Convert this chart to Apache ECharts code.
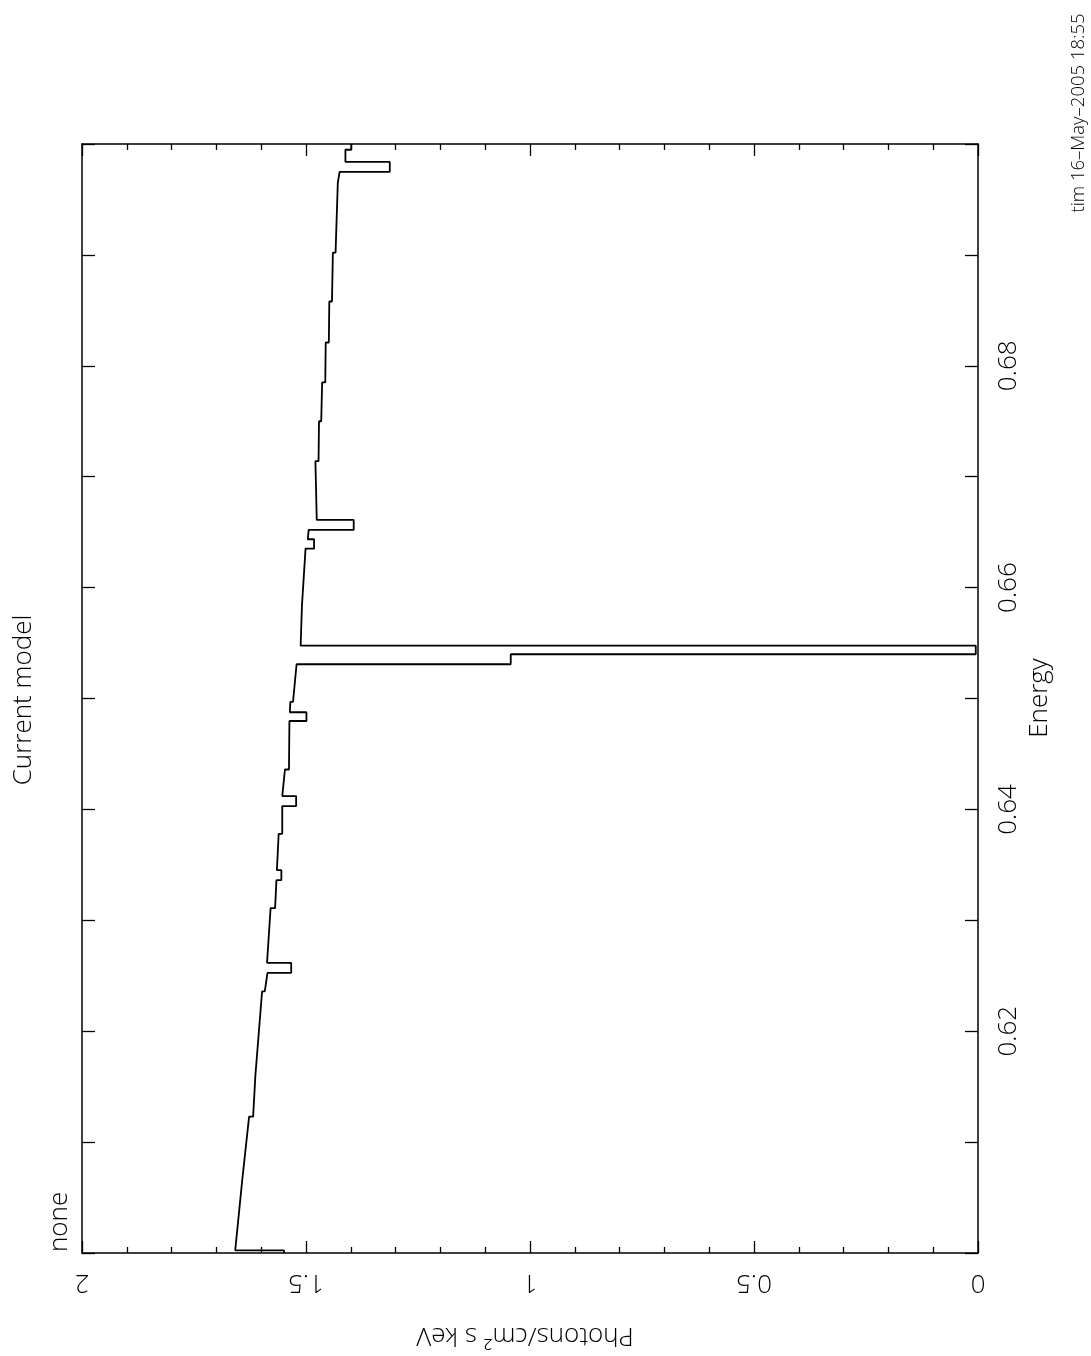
<!DOCTYPE html>
<html>
<head>
<meta charset="utf-8">
<title>Current model</title>
<script src="https://cdn.jsdelivr.net/npm/echarts@6/dist/echarts.min.js"></script>
<style>
  html, body { margin: 0; padding: 0; background: #fff; }
  #chart { width: 1091px; height: 1356px; }
</style>
</head>
<body>
<div id="chart"></div>
<script>
// Model spectrum (step outline) traced as vertices: energy in keV, flux in photons/cm^2/s/keV
const energy = [
  0.6000, 0.60024, 0.60024, 0.6067, 0.6123, 0.6123, 0.6160, 0.6236, 0.6236, 0.62526,
  0.62526, 0.62616, 0.62616, 0.6305, 0.6311, 0.6311, 0.63362, 0.63362, 0.63452, 0.63452,
  0.6378, 0.6378, 0.6403, 0.6403, 0.6412, 0.6412, 0.6436, 0.6436, 0.64797, 0.64797,
  0.64876, 0.64876, 0.6497, 0.6497, 0.65309, 0.65309, 0.65399, 0.65399, 0.65476, 0.65476,
  0.6584, 0.66351, 0.66351, 0.66436, 0.66436, 0.6652, 0.6652, 0.6661, 0.6661, 0.6714,
  0.6714, 0.6750, 0.6750, 0.6785, 0.6785, 0.6821, 0.6821, 0.6858, 0.6858, 0.6902,
  0.6902, 0.6965, 0.69748, 0.69748, 0.69838, 0.69838, 0.69948, 0.69948, 0.7000
];
const flux = [
  1.549, 1.549, 1.658, 1.642, 1.627, 1.618, 1.613, 1.598, 1.592, 1.586,
  1.533, 1.533, 1.587, 1.580, 1.579, 1.569, 1.566, 1.555, 1.555, 1.565,
  1.561, 1.553, 1.553, 1.522, 1.522, 1.553, 1.547, 1.538, 1.537, 1.499,
  1.499, 1.536, 1.535, 1.529, 1.521, 1.043, 1.043, 0.005, 0.005, 1.512,
  1.509, 1.501, 1.482, 1.482, 1.496, 1.494, 1.3935, 1.3935, 1.476, 1.479,
  1.472, 1.471, 1.466, 1.464, 1.457, 1.456, 1.449, 1.448, 1.442, 1.440,
  1.434, 1.429, 1.425, 1.313, 1.313, 1.412, 1.412, 1.399, 1.399
];

// Tick labels
const fluxTickLabels = ['0', '0.5', '1', '1.5', '2'];
const energyTickLabels = ['0.62', '0.64', '0.66', '0.68'];

const FONT = '"Open Sans", "Liberation Sans", sans-serif';
const WEIGHT = 300;
const INK = '#000';

const chart = echarts.init(document.getElementById('chart'), null, { renderer: 'canvas' });

const frameLine = { show: true, onZero: false, lineStyle: { color: INK, width: 1.5 } };

function fluxAxis(position, labels) {
  return {
    type: 'value', position: position, min: 0, max: 2, interval: 0.5, inverse: true,
    axisLine: frameLine,
    axisTick: { show: true, inside: true, length: 12, lineStyle: { color: INK, width: 1.3 } },
    minorTick: { show: true, splitNumber: 5, length: 6, lineStyle: { color: INK, width: 1.3 } },
    splitLine: { show: false }, minorSplitLine: { show: false },
    axisLabel: labels ? {
      show: true, rotate: 180, margin: 16, fontSize: 26, fontFamily: FONT, fontWeight: WEIGHT, color: INK,
      formatter: function (v) {
        const s = String(Math.round(v * 10) / 10);
        return fluxTickLabels.indexOf(s) >= 0 ? s : '';
      }
    } : { show: false }
  };
}

function energyAxis(position, labels) {
  return {
    type: 'value', position: position, min: 0.6, max: 0.7, interval: 0.01,
    axisLine: frameLine,
    axisTick: { show: true, inside: true, length: 13, lineStyle: { color: INK, width: 1.3 } },
    splitLine: { show: false },
    axisLabel: labels ? {
      show: true, rotate: 90, margin: 18, fontSize: 26, fontFamily: FONT, fontWeight: WEIGHT, color: INK,
      formatter: function (v) {
        const s = v.toFixed(2);
        return energyTickLabels.indexOf(s) >= 0 ? s : '';
      }
    } : { show: false }
  };
}

function rotatedText(text, x, y, rotation, size, align) {
  return {
    type: 'text', x: x, y: y, rotation: rotation, silent: true,
    style: {
      text: text, fill: INK, fontSize: size, fontFamily: FONT, fontWeight: WEIGHT,
      align: align || 'center', verticalAlign: 'middle'
    }
  };
}

chart.setOption({
  animation: false,
  backgroundColor: '#fff',
  grid: { left: 82, right: 113, top: 144, bottom: 103, containLabel: false },
  xAxis: [fluxAxis('bottom', true), fluxAxis('top', false)],
  yAxis: [energyAxis('right', true), energyAxis('left', false)],
  series: [{
    type: 'line',
    xAxisIndex: 0, yAxisIndex: 0,
    showSymbol: false,
    clip: true,
    lineStyle: { color: INK, width: 1.8 },
    data: energy.map(function (e, i) { return [flux[i], e]; })
  }],
  graphic: [
    rotatedText('Current model', 24, 700, Math.PI / 2, 26),
    rotatedText('none', 60, 1252, Math.PI / 2, 26, 'left'),
    rotatedText('Energy', 1040, 698, Math.PI / 2, 26),
    rotatedText('Photons/cm\u00B2 s keV', 525, 1335, Math.PI, 26),
    rotatedText('tim 16\u2013May\u20132005 18:55', 1079, 113, Math.PI / 2, 18.5)
  ]
});
</script>
</body>
</html>
